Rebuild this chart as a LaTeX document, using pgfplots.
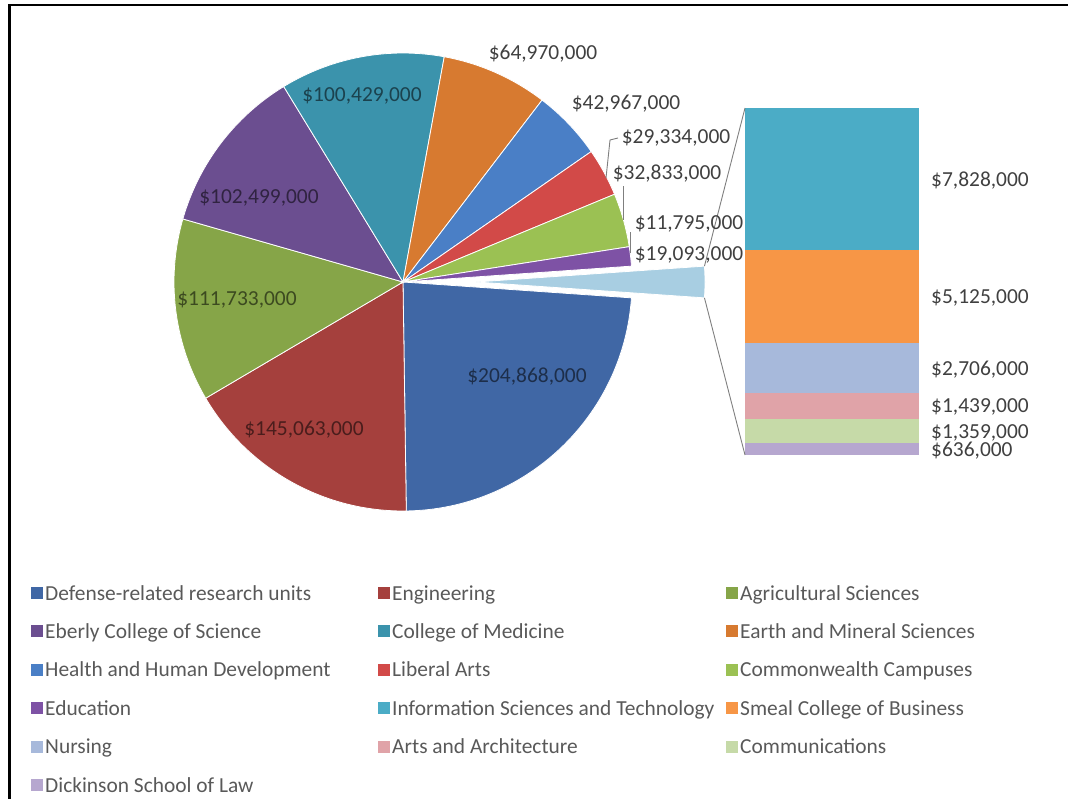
\documentclass[border=0pt]{standalone}
\usepackage{fontspec}
\setmainfont{Carlito}
\usepackage{pgfplots}
\usepackage{pgfplotstable}
\pgfplotsset{compat=1.18}

% slice colours (pie, in table order)
\definecolor{pc0}{HTML}{4067A5}
\definecolor{pc1}{HTML}{A5403D}
\definecolor{pc2}{HTML}{86A548}
\definecolor{pc3}{HTML}{6B4E90}
\definecolor{pc4}{HTML}{3B93AC}
\definecolor{pc5}{HTML}{D77A30}
\definecolor{pc6}{HTML}{4A7FC6}
\definecolor{pc7}{HTML}{D24A48}
\definecolor{pc8}{HTML}{9BC153}
\definecolor{pc9}{HTML}{7E52A5}
\definecolor{oc}{HTML}{A8CEE2}
% bar colours
\definecolor{bc0}{HTML}{4BACC6}
\definecolor{bc1}{HTML}{F79646}
\definecolor{bc2}{HTML}{A7B9DB}
\definecolor{bc3}{HTML}{E0A3A8}
\definecolor{bc4}{HTML}{C6DAA8}
\definecolor{bc5}{HTML}{B6A7CF}
\definecolor{labtxt}{HTML}{404040}
\definecolor{legtxt}{HTML}{595959}
\definecolor{leader}{HTML}{7F7F7F}

% research expenditures, millions of dollars
\pgfplotstableread{
value
204.868
145.063
111.733
102.499
100.429
64.970
42.967
29.334
32.833
11.795
}\piedata
% the "other" slice, split out in the bar
\pgfplotstableread{
value
7.828
5.125
2.706
1.439
1.359
0.636
}\bardata

% --- geometry (pixel units of the picture)
\def\cx{403}\def\cy{282}   % pie centre
\def\bartop{108}\def\barh{347}

\gdef\othersum{0}
\foreach \i in {0,...,5}{%
  \pgfplotstablegetelem{\i}{value}\of\bardata
  \pgfmathsetmacro\tmp{\othersum+\pgfplotsretval}\xdef\othersum{\tmp}}
\gdef\total{\othersum}
\foreach \i in {0,...,9}{%
  \pgfplotstablegetelem{\i}{value}\of\piedata
  \pgfmathsetmacro\tmp{\total+\pgfplotsretval}\xdef\total{\tmp}}
\pgfmathsetmacro\h{\othersum/\total*180}\xdef\h{\h}

\gdef\cum{0}
\foreach \i in {0,...,9}{%
  \pgfplotstablegetelem{\i}{value}\of\piedata
  \pgfmathsetmacro\a{-\h-\cum/\total*360}%
  \expandafter\xdef\csname ps\i\endcsname{\a}%
  \pgfmathsetmacro\tmp{\cum+\pgfplotsretval}\xdef\cum{\tmp}%
  \pgfmathsetmacro\a{-\h-\cum/\total*360}%
  \expandafter\xdef\csname pe\i\endcsname{\a}}

\gdef\cum{0}
\foreach \i in {0,...,5}{%
  \pgfplotstablegetelem{\i}{value}\of\bardata
  \pgfmathsetmacro\a{\bartop+\cum/\othersum*\barh}%
  \expandafter\xdef\csname bt\i\endcsname{\a}%
  \pgfmathsetmacro\tmp{\cum+\pgfplotsretval}\xdef\cum{\tmp}%
  \pgfmathsetmacro\b{\bartop+\cum/\othersum*\barh}%
  \expandafter\xdef\csname bb\i\endcsname{\b}%
  \pgfmathsetmacro\m{(\a+\b)/2+7}%
  \expandafter\xdef\csname bm\i\endcsname{\m}}

\newcommand\legitem[4]{%
  \fill[#3] (axis cs:#1,#2) ++(0,-6bp) rectangle ++(12bp,12bp);
  \path (axis cs:#1,#2) ++(14bp,-7bp) node[anchor=base west,inner sep=0,text=legtxt]{#4};}

\begin{document}
\begin{tikzpicture}[every node/.style={font=\fontsize{21.5}{24}\selectfont}]
\begin{axis}[
  width=1068bp, height=799bp, scale only axis,
  xmin=0, xmax=1068, ymin=0, ymax=799, y dir=reverse,
  hide axis, clip=false]

  % frame
  \draw[line width=3.5bp] (axis cs:9.5,799) -- (axis cs:9.5,5);
  \draw[line width=2.5bp] (axis cs:8,5) -- (axis cs:1068,5);

  % pie
  \pgfplotsinvokeforeach{0,...,9}{%
    \fill[pc#1, draw=white, line width=0.8bp] (axis cs:\cx,\cy) -- ++(\csname ps#1\endcsname:229bp)
      arc[start angle=\csname ps#1\endcsname, end angle=\csname pe#1\endcsname, radius=229bp] -- cycle;
  }
  % exploded "other" slice
  \fill[oc, draw=white, line width=0.8bp] (axis cs:476,\cy) -- ++(\h:229bp)
      arc[start angle=\h, end angle=-\h, radius=229bp] -- cycle;

  % bar of the other slice
  \pgfplotsinvokeforeach{0,...,5}{%
    \fill[bc#1] (axis cs:745,\csname bt#1\endcsname) rectangle (axis cs:919,\csname bb#1\endcsname);
  }
  % connectors
  \draw[leader, line width=0.9bp] (axis cs:476,\cy) ++(\h:229bp) -- (axis cs:745,\bartop);
  \draw[leader, line width=0.9bp] (axis cs:476,\cy) ++(-\h:229bp) -- (axis cs:745,455);

  % leader lines of the small slices
  \draw[leader, line width=0.9bp] (axis cs:606,178) -- (axis cs:610,140) -- (axis cs:618,138);
  \draw[leader, line width=0.9bp] (axis cs:623,220) -- (axis cs:623,186);
  \draw[leader, line width=0.9bp] (axis cs:630,253) -- (axis cs:630,232);

  % pie labels
  \node[anchor=base, text=pc0!45!black] at (axis cs:527,382) {\$204,868,000};
  \node[anchor=base, text=pc1!45!black] at (axis cs:304,435) {\$145,063,000};
  \node[anchor=base, text=pc2!45!black] at (axis cs:237,305) {\$111,733,000};
  \node[anchor=base, text=pc3!45!black] at (axis cs:259,204) {\$102,499,000};
  \node[anchor=base, text=pc4!45!black] at (axis cs:362,102) {\$100,429,000};
  \node[anchor=base, text=labtxt] at (axis cs:543,60)  {\$64,970,000};
  \node[anchor=base, text=labtxt] at (axis cs:626,110) {\$42,967,000};
  \node[anchor=base, text=labtxt] at (axis cs:676,144) {\$29,334,000};
  \node[anchor=base, text=labtxt] at (axis cs:667,180) {\$32,833,000};
  \node[anchor=base, text=labtxt] at (axis cs:689,229) {\$11,795,000};
  \node[anchor=base, text=labtxt] at (axis cs:689,260) {\$19,093,000};

  % bar labels
  \node[anchor=base west, inner sep=0, text=labtxt] at (axis cs:931,\csname bm0\endcsname) {\$7,828,000};
  \node[anchor=base west, inner sep=0, text=labtxt] at (axis cs:931,\csname bm1\endcsname) {\$5,125,000};
  \node[anchor=base west, inner sep=0, text=labtxt] at (axis cs:931,\csname bm2\endcsname) {\$2,706,000};
  \node[anchor=base west, inner sep=0, text=labtxt] at (axis cs:931,\csname bm3\endcsname) {\$1,439,000};
  \node[anchor=base west, inner sep=0, text=labtxt] at (axis cs:931,\csname bm4\endcsname) {\$1,359,000};
  \node[anchor=base west, inner sep=0, text=labtxt] at (axis cs:931,\csname bm5\endcsname) {\$636,000};

  % legend
  \legitem{31}{593}{pc0}{Defense-related research units}
  \legitem{378}{593}{pc1}{Engineering}
  \legitem{726}{593}{pc2}{Agricultural Sciences}
  \legitem{31}{631.4}{pc3}{Eberly College of Science}
  \legitem{378}{631.4}{pc4}{College of Medicine}
  \legitem{726}{631.4}{pc5}{Earth and Mineral Sciences}
  \legitem{31}{669.8}{pc6}{Health and Human Development}
  \legitem{378}{669.8}{pc7}{Liberal Arts}
  \legitem{726}{669.8}{pc8}{Commonwealth Campuses}
  \legitem{31}{708.2}{pc9}{Education}
  \legitem{378}{708.2}{bc0}{Information Sciences and Technology}
  \legitem{726}{708.2}{bc1}{Smeal College of Business}
  \legitem{31}{746.6}{bc2}{Nursing}
  \legitem{378}{746.6}{bc3}{Arts and Architecture}
  \legitem{726}{746.6}{bc4}{Communications}
  \legitem{31}{785}{bc5}{Dickinson School of Law}
\end{axis}
\pgfresetboundingbox
\path[use as bounding box] (current axis.south west) rectangle (current axis.north east);
\end{tikzpicture}
\end{document}
